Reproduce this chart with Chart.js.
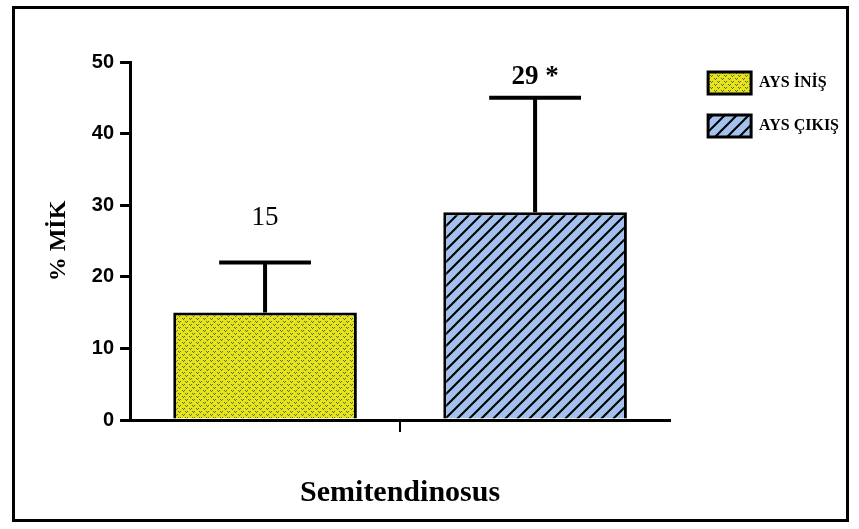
<!DOCTYPE html>
<html>
<head>
<meta charset="utf-8">
<script src="https://cdn.jsdelivr.net/npm/chart.js@4/dist/chart.umd.min.js"></script>
<style>
  html, body { margin: 0; padding: 0; background: #ffffff; }
  canvas { display: block; }
</style>
</head>
<body>
<canvas id="chart" width="859" height="529"></canvas>
<script>
// Muscle activity (% MİK) of semitendinosus, stair descent vs. ascent
const categories = ['Semitendinosus'];
const seriesNames = ['AYS İNİŞ', 'AYS ÇIKIŞ'];
const meanValues = [15, 29];
const sdValues = [7, 16];
const valueSuffixes = ['', ' *'];
const yTicks = [0, 10, 20, 30, 40, 50];

// Yellow fill with a fine dark dot texture
function dottedPattern() {
  const t = document.createElement('canvas');
  t.width = 7; t.height = 6;
  const g = t.getContext('2d');
  g.fillStyle = '#e4e41c';
  g.fillRect(0, 0, 7, 6);
  g.fillStyle = 'rgba(70,70,40,0.8)';
  g.fillRect(0, 0, 1, 1); g.fillRect(2, 0, 1, 1); g.fillRect(1, 1, 1, 1);
  g.fillRect(3, 3, 1, 1); g.fillRect(5, 3, 1, 1); g.fillRect(4, 4, 1, 1);
  return g.createPattern(t, 'repeat');
}

// Light blue fill with black forward-slash hatching
function hatchPattern() {
  const s = 12;
  const t = document.createElement('canvas');
  t.width = s; t.height = s;
  const g = t.getContext('2d');
  g.fillStyle = '#a3c1ec';
  g.fillRect(0, 0, s, s);
  g.strokeStyle = '#000000';
  g.lineWidth = 2;
  g.beginPath();
  g.moveTo(-2, s + 2); g.lineTo(s + 2, -2);
  g.moveTo(-2, 2); g.lineTo(2, -2);
  g.moveTo(s - 2, s + 2); g.lineTo(s + 2, s - 2);
  g.stroke();
  return g.createPattern(t, 'repeat');
}

const fills = [dottedPattern(), hatchPattern()];

// Upward SD whiskers plus the value text above each bar
const errorBarPlugin = {
  id: 'errorBars',
  afterDatasetsDraw(chart, args, opts) {
    const ctx = chart.ctx;
    const yScale = chart.scales.y;
    chart.data.datasets.forEach((ds, i) => {
      const meta = chart.getDatasetMeta(i);
      meta.data.forEach((bar, j) => {
        const mean = ds.data[j];
        const capY = yScale.getPixelForValue(mean + sdValues[i]);
        const half = bar.width / 4;
        ctx.save();
        ctx.strokeStyle = '#000000';
        ctx.lineWidth = 4;
        ctx.beginPath();
        ctx.moveTo(bar.x, bar.y);
        ctx.lineTo(bar.x, capY);
        ctx.moveTo(bar.x - half, capY);
        ctx.lineTo(bar.x + half, capY);
        ctx.stroke();

        ctx.fillStyle = '#000000';
        ctx.font = opts.labelFonts[i];
        ctx.textAlign = 'center';
        ctx.textBaseline = 'middle';
        ctx.fillText(String(mean) + valueSuffixes[i], bar.x, capY - opts.labelGaps[i]);
        ctx.restore();
      });
    });
  }
};

// Nudges the legend block and draws the surrounding frame
const framePlugin = {
  id: 'frame',
  afterLayout(chart, args, opts) {
    const lg = chart.legend;
    if (!lg) return;
    lg.left += opts.legendShiftX; lg.right += opts.legendShiftX;
    lg.top += opts.legendShiftY; lg.bottom += opts.legendShiftY;
  },
  afterDraw(chart, args, opts) {
    const ctx = chart.ctx;
    ctx.save();
    ctx.strokeStyle = '#000000';
    ctx.lineWidth = 3;
    ctx.strokeRect(opts.inset.left, opts.inset.top,
      chart.width - opts.inset.left - opts.inset.right,
      chart.height - opts.inset.top - opts.inset.bottom);
    ctx.restore();
  }
};

new Chart(document.getElementById('chart'), {
  type: 'bar',
  data: {
    labels: categories,
    datasets: seriesNames.map((name, i) => ({
      label: name,
      data: [meanValues[i]],
      backgroundColor: fills[i],
      borderColor: '#000000',
      borderWidth: 3,
      categoryPercentage: 1.0,
      barPercentage: 0.68
    }))
  },
  options: {
    responsive: false,
    animation: false,
    layout: { padding: { left: 4, right: 27, top: 62, bottom: 14 } },
    plugins: {
      tooltip: { enabled: false },
      legend: {
        position: 'right',
        align: 'start',
        labels: {
          boxWidth: 43,
          boxHeight: 22,
          padding: 21,
          color: '#000000',
          font: { family: 'Liberation Serif', weight: 'bold', size: 16 }
        }
      },
      errorBars: {
        labelFonts: ['27px "Liberation Serif"', 'bold 27px "Liberation Serif"'],
        labelGaps: [45, 21]
      },
      frame: {
        legendShiftX: 17,
        legendShiftY: -11,
        inset: { left: 13.5, top: 7.5, right: 11.5, bottom: 8.5 }
      }
    },
    scales: {
      x: {
        ticks: { display: false },
        grid: {
          display: true,
          drawOnChartArea: false,
          offset: false,
          drawTicks: true,
          tickLength: 12,
          lineWidth: 2,
          color: '#000000'
        },
        border: { display: true, color: '#000000', width: 3 },
        title: {
          display: true,
          text: 'Semitendinosus',
          color: '#000000',
          font: { family: 'Liberation Serif', weight: 'bold', size: 30 },
          padding: { top: 43, bottom: 4 }
        }
      },
      y: {
        min: 0,
        max: 50,
        afterBuildTicks: (scale) => { scale.ticks = yTicks.map(v => ({ value: v })); },
        ticks: {
          color: '#000000',
          padding: 6,
          font: { family: 'Liberation Sans', weight: 'bold', size: 20 }
        },
        grid: {
          display: true,
          drawOnChartArea: false,
          drawTicks: true,
          tickLength: 10,
          lineWidth: 3,
          color: '#000000'
        },
        border: { display: true, color: '#000000', width: 3 },
        title: {
          display: true,
          text: '% MİK',
          color: '#000000',
          font: { family: 'Liberation Serif', weight: 'bold', size: 24 },
          padding: { top: 40.6, bottom: 12.4 }
        }
      }
    }
  },
  plugins: [errorBarPlugin, framePlugin]
});
</script>
</body>
</html>
